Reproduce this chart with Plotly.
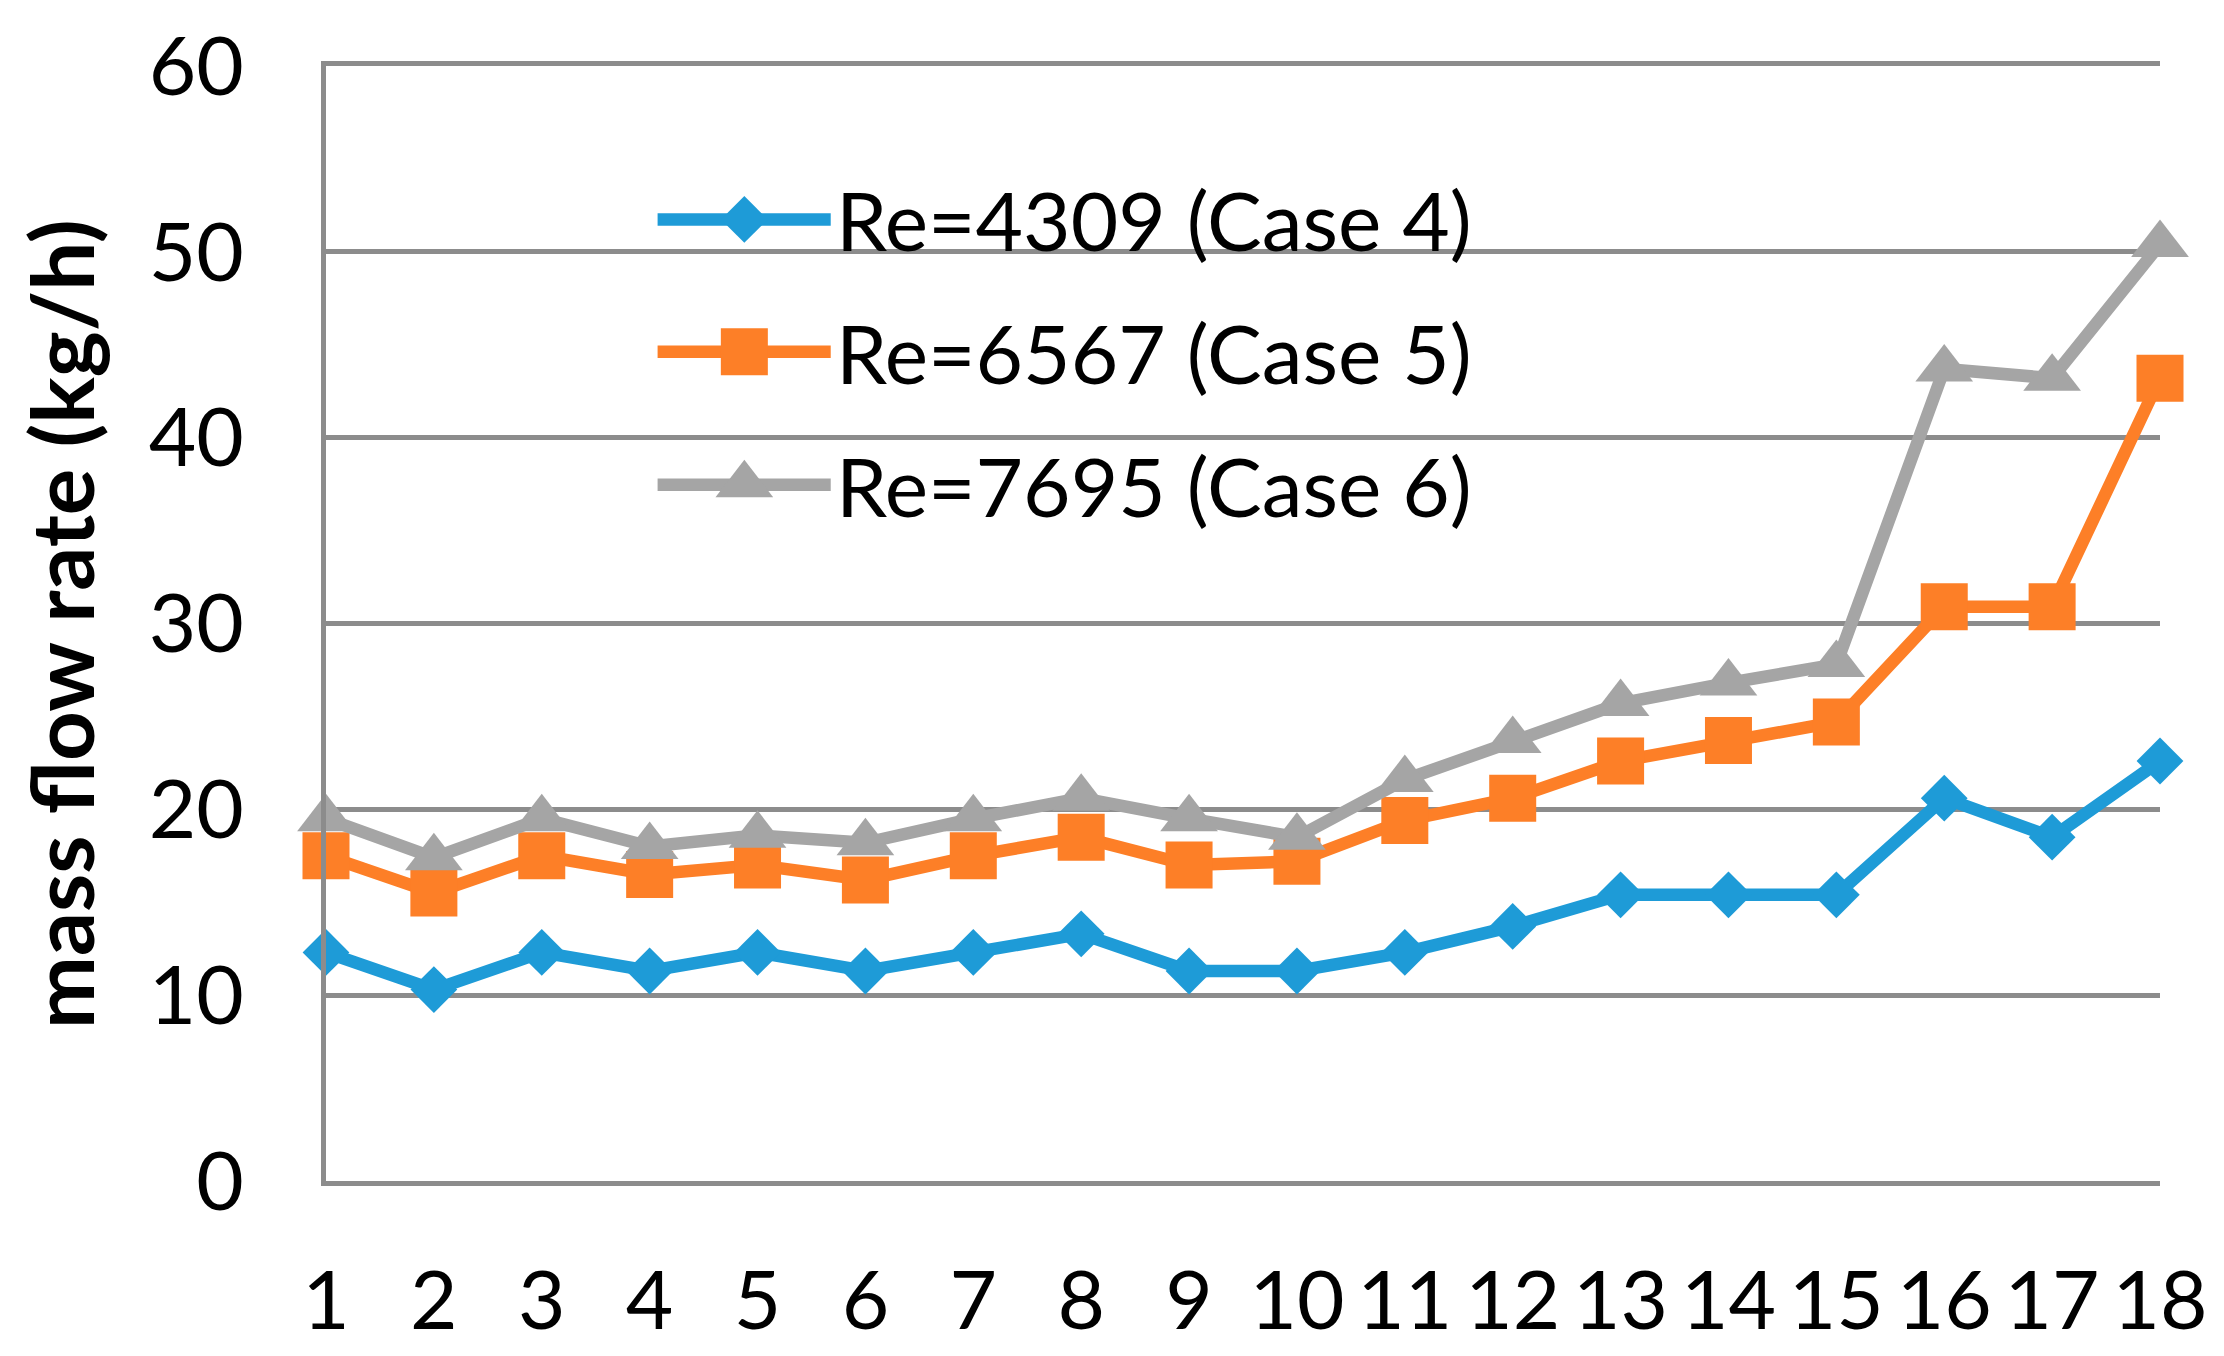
import plotly.graph_objects as go

# ---------------- data ----------------
positions = list(range(1, 19))
x_tick_labels = [str(p) for p in positions]
y_ticks = [0, 10, 20, 30, 40, 50, 60]
y_title = "mass flow rate (kg/h)"

series_names = ["Re=4309 (Case 4)", "Re=6567 (Case 5)", "Re=7695 (Case 6)"]
case4 = [12.3, 10.3, 12.3, 11.3, 12.3, 11.3, 12.3, 13.3, 11.3, 11.3,
         12.3, 13.7, 15.4, 15.4, 15.4, 20.6, 18.5, 22.6]
case5 = [17.5, 15.5, 17.5, 16.5, 17.0, 16.2, 17.5, 18.5, 17.0, 17.2,
         19.4, 20.6, 22.6, 23.7, 24.7, 30.9, 30.9, 43.2]
case6 = [19.5, 17.4, 19.5, 18.0, 18.6, 18.2, 19.5, 20.6, 19.5, 18.5,
         21.6, 23.7, 25.7, 26.8, 27.8, 43.7, 43.2, 50.4]
series_values = [case4, case5, case6]

# ---------------- style ----------------
colors = ["#1E9BD7", "#FD7F27", "#A5A5A5"]
symbols = ["diamond", "square", "triangle-up"]
marker_sizes = [36, 47, 50]
line_w = 12.5
grid_color = "#8C8C8C"
font_family = "Lato"
tick_size = 82

# custom legend layout (fractions of plot area)
leg_x0, leg_x1, leg_xm, leg_text_x = 0.1808, 0.2752, 0.2281, 0.2772
leg_rows = [0.8624, 0.7437, 0.6244]

fig = go.Figure()

for name, vals, c, sym, ms in zip(series_names, series_values, colors, symbols, marker_sizes):
    fig.add_trace(go.Scatter(
        x=positions, y=vals, mode="lines+markers", name=name,
        line=dict(color=c, width=line_w),
        marker=dict(symbol=sym, size=ms, color=c, line=dict(width=0)),
        cliponaxis=False, showlegend=False,
    ))

# legend drawn on an overlay axis spanning the plot area
for name, c, sym, ms, ry in zip(series_names, colors, symbols, marker_sizes, leg_rows):
    fig.add_trace(go.Scatter(
        x=[leg_x0, leg_x1], y=[ry, ry], mode="lines", xaxis="x2", yaxis="y2",
        line=dict(color=c, width=line_w), showlegend=False, hoverinfo="skip",
        cliponaxis=False,
    ))
    fig.add_trace(go.Scatter(
        x=[leg_xm], y=[ry], mode="markers", xaxis="x2", yaxis="y2",
        marker=dict(symbol=sym, size=ms, color=c, line=dict(width=0)),
        showlegend=False, hoverinfo="skip", cliponaxis=False,
    ))
    fig.add_annotation(
        x=leg_text_x, y=ry, xref="paper", yref="paper", text=name,
        showarrow=False, xanchor="left", yanchor="middle",
        font=dict(family=font_family, size=tick_size, color="#000000"),
    )

# y-axis title
fig.add_annotation(
    x=-0.1448, y=0.5, xref="paper", yref="paper", text="<b>" + y_title + "</b>",
    textangle=-90, showarrow=False, xanchor="center", yanchor="middle",
    font=dict(family=font_family, size=87, color="#000000"),
)

fig.update_layout(
    width=2224, height=1356,
    margin=dict(l=318, r=72, t=58, b=183, autoexpand=False),
    paper_bgcolor="white", plot_bgcolor="white",
    showlegend=False,
    font=dict(family=font_family, size=tick_size, color="#000000"),
    xaxis=dict(
        range=[1, 18], tickmode="array", tickvals=positions, ticktext=x_tick_labels,
        showgrid=False, zeroline=False, showline=True, mirror=True,
        linecolor=grid_color, linewidth=4.5,
        ticks="", ticklabelstandoff=45, automargin=False,
        tickfont=dict(family=font_family, size=tick_size, color="#000000"),
    ),
    yaxis=dict(
        range=[0, 60], tickmode="array", tickvals=y_ticks,
        showgrid=True, gridcolor=grid_color, gridwidth=4.5, zeroline=False,
        showline=True, linecolor=grid_color, linewidth=4.5,
        ticks="", ticklabelstandoff=61, automargin=False,
        tickfont=dict(family=font_family, size=tick_size, color="#000000"),
    ),
    xaxis2=dict(range=[0, 1], overlaying="x", anchor="y2", visible=False, fixedrange=True),
    yaxis2=dict(range=[0, 1], overlaying="y", anchor="x2", visible=False, fixedrange=True),
)

fig.write_html("out.html")
